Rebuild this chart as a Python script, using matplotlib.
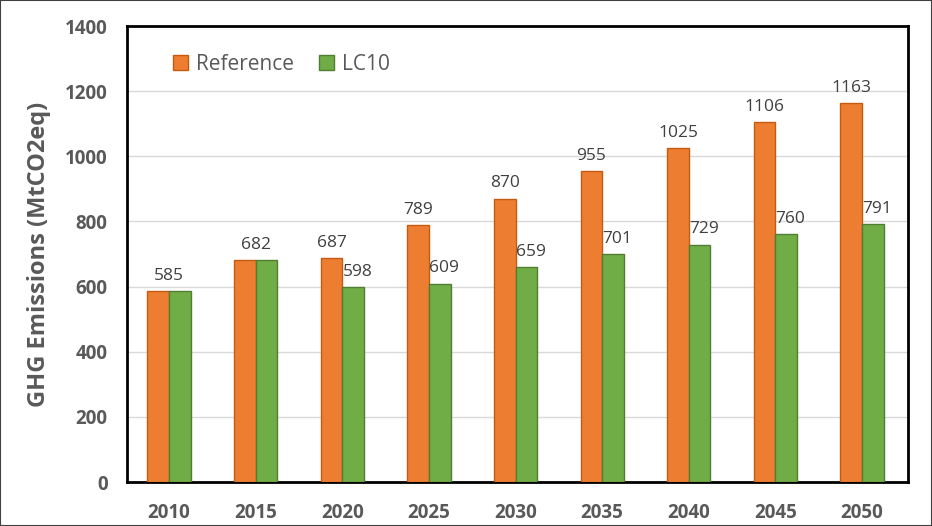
import numpy as np
import matplotlib.pyplot as plt
from matplotlib.patches import Rectangle

years = ['2010', '2015', '2020', '2025', '2030', '2035', '2040', '2045', '2050']
reference = [585, 682, 687, 789, 870, 955, 1025, 1106, 1163]
lc10 = [585, 682, 598, 609, 659, 701, 729, 760, 791]

plt.rcParams['font.family'] = ['Open Sans', 'DejaVu Sans']

fig = plt.figure(figsize=(9.32, 5.26), dpi=100)
ax = fig.add_axes([127 / 932, 1 - 482 / 526, (908 - 127) / 932, (482 - 26) / 526])

x = np.arange(len(years))
w = 0.25
ax.bar(x - w / 2, reference, w, color='#ED7D31', edgecolor='#C55A11',
       linewidth=1, label='Reference', zorder=3)
ax.bar(x + w / 2, lc10, w, color='#70AD47', edgecolor='#507E32',
       linewidth=1, label='LC10', zorder=3)

# data labels; first two years have the same value so only one label
for i in range(len(years)):
    if reference[i] == lc10[i]:
        ax.text(x[i], reference[i] + 22, str(reference[i]), ha='center', va='bottom',
                fontsize=12.5, color='#404040')
    else:
        ax.text(x[i] - w / 2, reference[i] + 22, str(reference[i]), ha='center',
                va='bottom', fontsize=12.5, color='#404040')
        ax.text(x[i] + w / 2 + 0.05, lc10[i] + 22, str(lc10[i]), ha='center',
                va='bottom', fontsize=12.5, color='#404040')

ax.set_xlim(-0.485, 8.53)
ax.set_ylim(0, 1400)
ax.set_yticks(range(0, 1401, 200))
ax.set_xticks(x)
ax.set_xticklabels(years)
ax.yaxis.grid(True, color='#D9D9D9', linewidth=1, zorder=0)
ax.tick_params(length=0, labelsize=13.5, labelcolor='#595959')
ax.tick_params(axis='x', pad=15)
ax.tick_params(axis='y', pad=14)
for lab in ax.get_xticklabels() + ax.get_yticklabels():
    lab.set_fontweight('bold')
for s in ax.spines.values():
    s.set_linewidth(2)
    s.set_color('black')

ax.set_ylabel('GHG Emissions (MtCO2eq)', fontsize=17, fontweight='bold',
              color='#595959', labelpad=10)

ax.legend(loc='upper left', bbox_to_anchor=(0.035, 0.98), ncol=2, frameon=False,
          fontsize=15, labelcolor='#595959', handlelength=0.7, handleheight=0.7,
          columnspacing=1.2, handletextpad=0.4)

fig.patches.append(Rectangle((0, 0), 1, 1, transform=fig.transFigure, fill=False,
                             edgecolor='#404040', linewidth=1.5))

fig.savefig('out.png', dpi=100)
